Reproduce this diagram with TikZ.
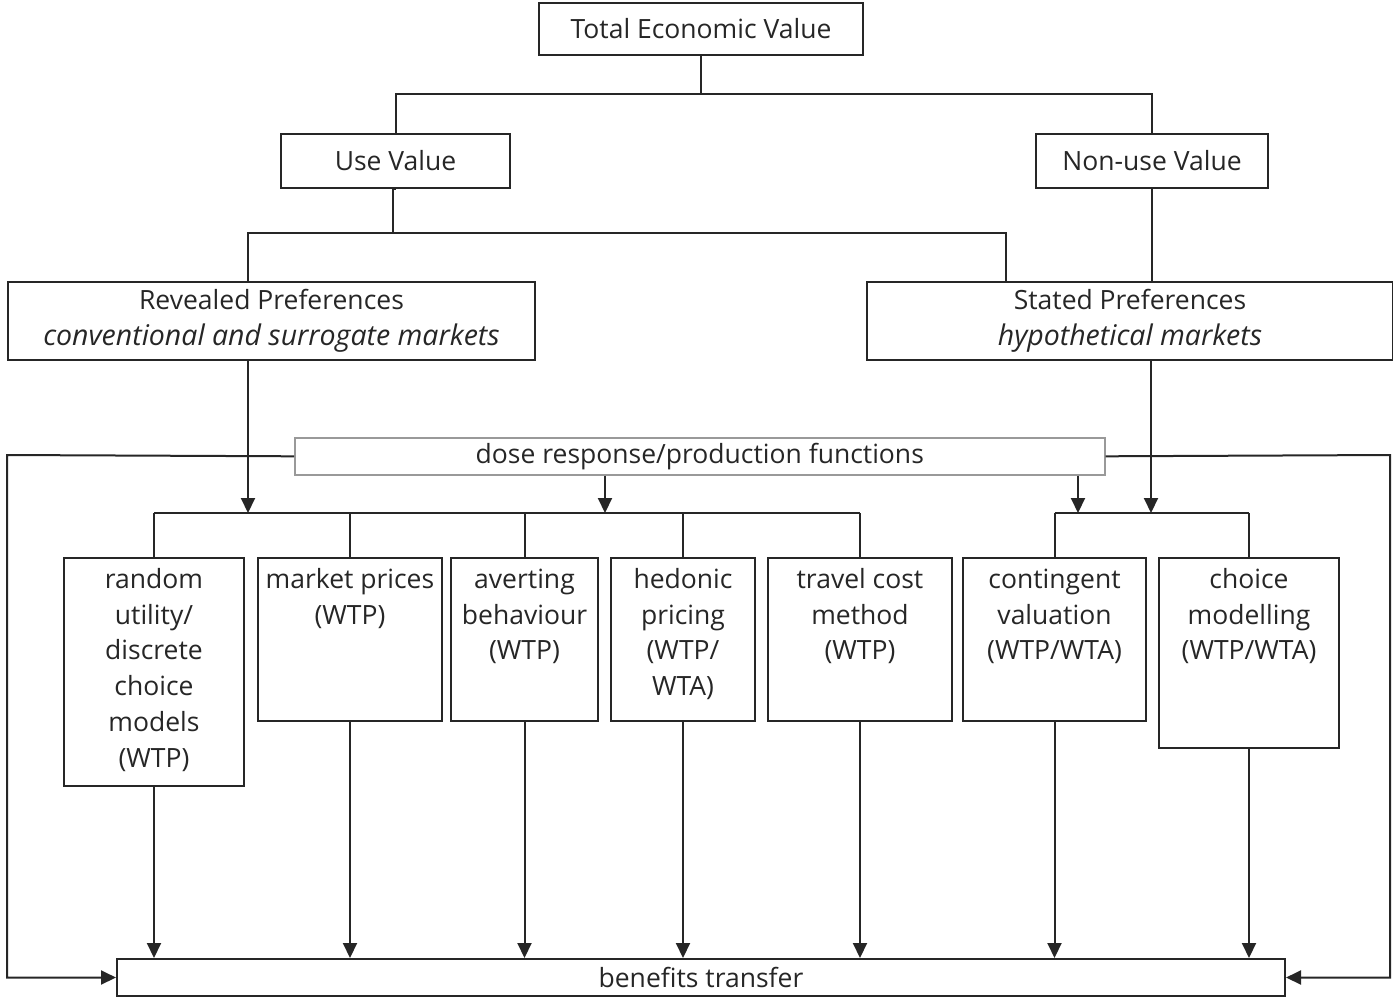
\documentclass[tikz,border=0pt]{standalone}
\usepackage{fontspec}
\setmainfont{Open Sans}
\usetikzlibrary{arrows.meta}
\begin{document}
\begin{tikzpicture}[x=1pt,y=-1pt,
 box/.style={draw=black!85, line width=2pt, rectangle, inner sep=0pt, anchor=north west,
   align=center, font=\fontsize{26.5}{35.5}\selectfont, text=black!85},
 graybox/.style={box, draw=black!40},
 lbl/.style={inner sep=0pt, align=center, anchor=north, font=\fontsize{26.5}{35.8}\selectfont, text=black!85},
 ln/.style={draw=black!85, line width=2pt},
 arr/.style={ln, -{Triangle[length=15pt,width=14pt]}},
]
\newcommand\itl[1]{{\fontsize{28.5}{35.5}\selectfont\itshape #1}}
\useasboundingbox (0,0) rectangle (1393,997);
% top levels
\node[box, minimum width=324, minimum height=52] (tev) at (538,2) {Total Economic Value};
\node[box, minimum width=229, minimum height=54] (uv) at (280,133) {Use Value};
\node[box, minimum width=232, minimum height=54] (nu) at (1035,133) {Non-use Value};
\node[box, minimum width=527, minimum height=78] (rev) at (7,281) {Revealed Preferences\\\itl{conventional and surrogate markets}};
\node[box, minimum width=526, minimum height=78] (sp) at (866,281) {Stated Preferences\\\itl{hypothetical markets}};
\node[graybox, minimum width=810, minimum height=37, line width=1.6pt] (dose) at (294,437) {dose response/production functions};
\node[box, minimum width=1168, minimum height=37] (bt) at (116,958) {benefits transfer};
% method boxes
\node[box, minimum width=180, minimum height=228] (ru) at (63,557) {};
\node[box, minimum width=184, minimum height=163] (mp) at (257,557) {};
\node[box, minimum width=147, minimum height=163] (ab) at (450,557) {};
\node[box, minimum width=144, minimum height=163] (hp) at (610,557) {};
\node[box, minimum width=184, minimum height=163] (tc) at (767,557) {};
\node[box, minimum width=183, minimum height=163] (cv) at (962,557) {};
\node[box, minimum width=180, minimum height=190] (cm) at (1158,557) {};
\node[lbl] (rut) at ([yshift=-6pt]ru.north) {\strut random\\utility/\\discrete\\choice\\models\\(WTP)};
\node[lbl] (mpt) at ([yshift=-6pt]mp.north) {\strut market prices\\(WTP)};
\node[lbl] (abt) at ([yshift=-6pt]ab.north) {\strut averting\\behaviour\\(WTP)};
\node[lbl] (hpt) at ([yshift=-6pt]hp.north) {\strut hedonic\\pricing\\(WTP/\\WTA)};
\node[lbl] (tct) at ([yshift=-6pt]tc.north) {\strut travel cost\\method\\(WTP)};
\node[lbl] (cvt) at ([yshift=-6pt]cv.north) {\strut contingent\\valuation\\(WTP/WTA)};
\node[lbl] (cmt) at ([yshift=-6pt]cm.north) {\strut choice\\modelling\\(WTP/WTA)};
% helper coordinates
\coordinate (j1) at (700,94);
\coordinate (j2) at (393,233);
\coordinate (rpx) at (248,513);
\coordinate (spt) at (1006,281);
\coordinate (spx) at (1151,513);
\coordinate (dA) at (605,513);
\coordinate (dB) at (1078,513);
\coordinate (L) at (7,455);
\coordinate (R) at (1390,455);
% top connectors
\draw[ln] (tev.south) -- (tev.south |- j1);
\draw[ln] (uv.north) |- (j1) -| (nu.north);
\draw[ln] (uv.south) -- (uv.south -| j2) -- (j2);
\draw[ln] (rpx |- rev.north) |- (j2) -| (spt |- sp.north);
\draw[ln] (nu.south) -- (nu.south |- sp.north);
% arrows into bars
\draw[arr] (rpx |- rev.south) -- (rpx);
\draw[arr] (spx |- sp.south) -- (spx);
\draw[arr] (dA |- dose.south) -- (dA);
\draw[arr] (dB |- dose.south) -- (dB);
% bars
\draw[ln] (ru.north |- rpx) -- (tc.north |- rpx);
\draw[ln] (cv.north |- rpx) -- (cm.north |- rpx);
\foreach \n in {ru,mp,ab,hp,tc,cv,cm} {
  \draw[ln] (\n.north) -- (\n.north |- rpx);
  \draw[arr] (\n.south) -- (\n.south |- bt.north);
}
% dose side lines
\draw[arr] (dose.west) -- (L) -- (L |- bt.west) -- (bt.west);
\draw[arr] (dose.east) -- (R) -- (R |- bt.east) -- (bt.east);
\end{tikzpicture}
\end{document}
